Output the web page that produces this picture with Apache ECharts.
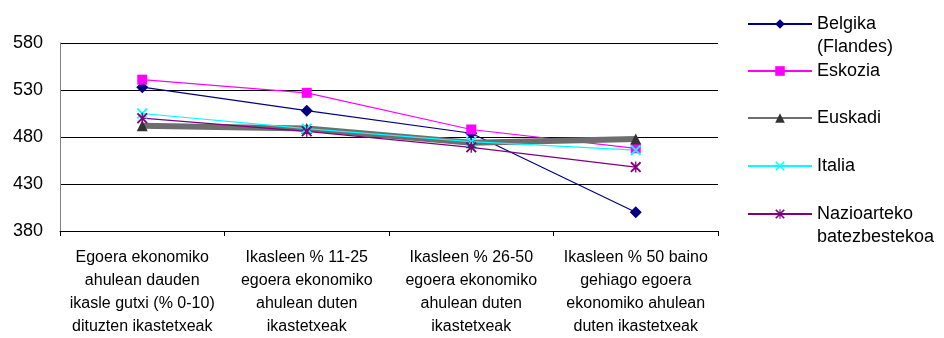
<!DOCTYPE html>
<html>
<head>
<meta charset="utf-8">
<script src="https://cdn.jsdelivr.net/npm/echarts@6/dist/echarts.min.js"></script>
<style>
  html, body { margin: 0; padding: 0; background: #fff; }
  #main { width: 944px; height: 338px; }
</style>
</head>
<body>
<div id="main"></div>
<script>
// categories on the x axis
var categories = [
  'Egoera ekonomiko\nahulean dauden\nikasle gutxi (% 0-10)\ndituzten ikastetxeak',
  'Ikasleen % 11-25\negoera ekonomiko\nahulean duten\nikastetxeak',
  'Ikasleen % 26-50\negoera ekonomiko\nahulean duten\nikastetxeak',
  'Ikasleen % 50 baino\ngehiago egoera\nekonomiko ahulean\nduten ikastetxeak'
];

// values
var belgika = [533, 508, 484, 400];
var eskozia = [541, 527, 488, 468];
var euskadi = [492, 489, 474, 478];
var italia = [505, 489, 475, 466];
var nazioarteko = [500, 486, 469, 448];

var yTicks = [380, 430, 480, 530, 580];

var font = 'Liberation Sans';

// X and asterisk markers as thin filled shapes
var crossPath = 'path://M0,1.2 L1.2,0 L10,8.8 L8.8,10 Z M8.8,0 L10,1.2 L1.2,10 L0,8.8 Z';
var starPath = 'path://M0,1.2 L1.2,0 L10,8.8 L8.8,10 Z M8.8,0 L10,1.2 L1.2,10 L0,8.8 Z M4.4,0 L5.6,0 L5.6,10 L4.4,10 Z';

var myChart = echarts.init(document.getElementById('main'));

function legendFor(name, top, twoLines) {
  return {
    data: [name],
    orient: 'vertical',
    left: 747,
    top: top,
    padding: 0,
    itemWidth: 64,
    itemHeight: 12,
    itemGap: 6,
    formatter: function (n) {
      // blank first line so the name's first line sits level with the marker
      return twoLines ? ' \n' + n.replace(' ', '\n') : n;
    },
    textStyle: {
      fontFamily: font,
      fontSize: 18,
      color: '#000',
      lineHeight: 23
    }
  };
}

var option = {
  backgroundColor: '#fff',
  animation: false,
  grid: {
    left: 60,
    right: 226,
    top: 43,
    bottom: 106
  },
  legend: [
    legendFor('Belgika (Flandes)', 24 - 34.5, true),
    legendFor('Eskozia', 71 - 11.5, false),
    legendFor('Euskadi', 118 - 11.5, false),
    legendFor('Italia', 166 - 11.5, false),
    legendFor('Nazioarteko batezbestekoa', 214 - 34.5, true)
  ],
  xAxis: {
    type: 'category',
    data: categories,
    boundaryGap: true,
    axisLine: { lineStyle: { color: '#000', width: 1 } },
    axisTick: { show: true, length: 5, lineStyle: { color: '#000' } },
    axisLabel: {
      interval: 0,
      fontFamily: font,
      fontSize: 16,
      color: '#000',
      lineHeight: 23,
      margin: 15
    }
  },
  yAxis: {
    type: 'value',
    min: yTicks[0],
    max: yTicks[yTicks.length - 1],
    interval: 50,
    axisLine: { show: true, lineStyle: { color: '#808080', width: 1 } },
    axisTick: { show: false },
    axisLabel: {
      fontFamily: font,
      fontSize: 18,
      color: '#000',
      margin: 17
    },
    splitLine: { lineStyle: { color: '#000', width: 1 } }
  },
  series: [
    {
      name: 'Belgika (Flandes)',
      type: 'line',
      data: belgika,
      symbol: 'diamond',
      symbolSize: 12,
      itemStyle: { color: '#000080' },
      lineStyle: { color: '#000080', width: 1.2 }
    },
    {
      name: 'Eskozia',
      type: 'line',
      data: eskozia,
      symbol: 'rect',
      symbolSize: 10,
      itemStyle: { color: '#ff00ff' },
      lineStyle: { color: '#ff00ff', width: 1.2 }
    },
    {
      name: 'Euskadi',
      type: 'line',
      data: euskadi,
      symbol: 'triangle',
      symbolSize: 11,
      itemStyle: { color: '#333333' },
      lineStyle: { color: '#6e6e6e', width: 6 }
    },
    {
      name: 'Italia',
      type: 'line',
      data: italia,
      symbol: crossPath,
      symbolSize: 11,
      itemStyle: { color: '#00ffff' },
      lineStyle: { color: '#00ffff', width: 1.2 }
    },
    {
      name: 'Nazioarteko batezbestekoa',
      type: 'line',
      data: nazioarteko,
      symbol: starPath,
      symbolSize: 11,
      itemStyle: { color: '#800080' },
      lineStyle: { color: '#800080', width: 1.2 }
    }
  ]
};

myChart.setOption(option);
</script>
</body>
</html>
